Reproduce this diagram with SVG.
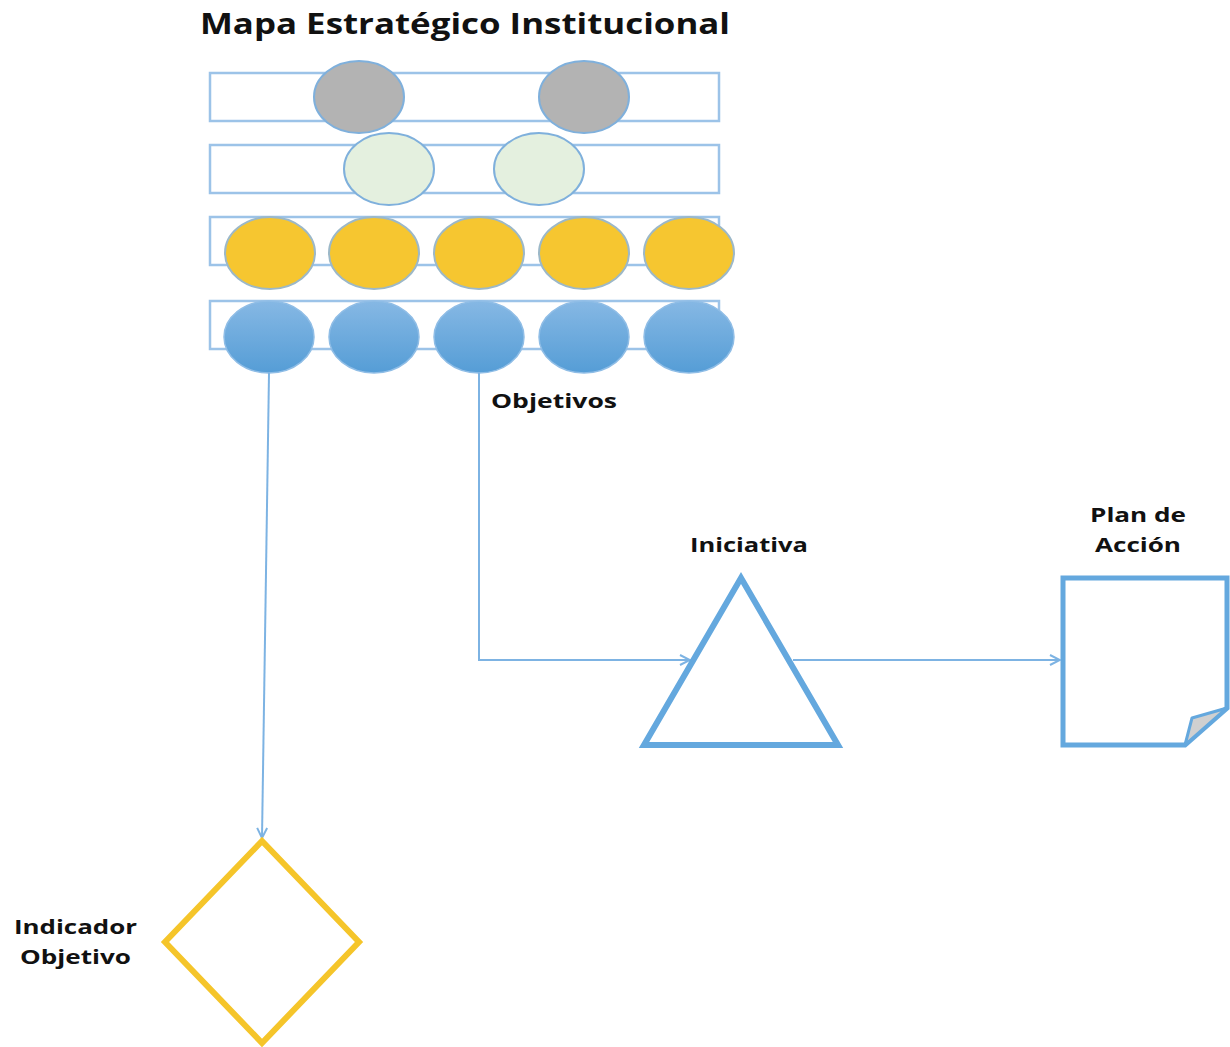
<svg xmlns="http://www.w3.org/2000/svg" width="1230" height="1047" viewBox="0 0 1230 1047">
<defs>
<style>
.lbl{font-family:"Open Sans","Liberation Sans",sans-serif;font-weight:700;fill:#111;}
.band{fill:none;stroke:#9cc3e8;stroke-width:2.5;}
.gray{fill:#b3b3b3;stroke:#7fb0dc;stroke-width:2;}
.green{fill:#e4f0df;stroke:#7fb0dc;stroke-width:2;}
.yellow{fill:#f6c630;stroke:#9cb8c8;stroke-width:2;}
.blue{fill:url(#bg);stroke:#8fbde6;stroke-width:1.5;}
.conn{fill:none;stroke:#7db3e3;stroke-width:2;}
</style>
<linearGradient id="bg" x1="0" y1="0" x2="0" y2="1">
<stop offset="0" stop-color="#86b8e4"/>
<stop offset="1" stop-color="#559dd6"/>
</linearGradient>
<marker id="arr" viewBox="0 0 12 12" refX="11" refY="6" markerWidth="12" markerHeight="12" markerUnits="userSpaceOnUse" orient="auto">
<path d="M1,1 L11,6 L1,11" fill="none" stroke="#7db3e3" stroke-width="2"/>
</marker>
</defs>
<rect width="1230" height="1047" fill="#fff"/>
<text class="lbl" x="200" y="34" font-size="29" textLength="530" lengthAdjust="spacingAndGlyphs">Mapa Estratégico Institucional</text>
<g id="mapa">
<rect class="band" x="210" y="73" width="509" height="48"/>
<rect class="band" x="210" y="145" width="509" height="48"/>
<rect class="band" x="210" y="217" width="509" height="48"/>
<rect class="band" x="210" y="301" width="509" height="48"/>
<ellipse class="gray" cx="359" cy="97" rx="45" ry="36"/>
<ellipse class="gray" cx="584" cy="97" rx="45" ry="36"/>
<ellipse class="green" cx="389" cy="169" rx="45" ry="36"/>
<ellipse class="green" cx="539" cy="169" rx="45" ry="36"/>
<ellipse class="yellow" cx="270" cy="253" rx="45" ry="36"/>
<ellipse class="yellow" cx="374" cy="253" rx="45" ry="36"/>
<ellipse class="yellow" cx="479" cy="253" rx="45" ry="36"/>
<ellipse class="yellow" cx="584" cy="253" rx="45" ry="36"/>
<ellipse class="yellow" cx="689" cy="253" rx="45" ry="36"/>
<ellipse class="blue" cx="269" cy="337" rx="45" ry="36"/>
<ellipse class="blue" cx="374" cy="337" rx="45" ry="36"/>
<ellipse class="blue" cx="479" cy="337" rx="45" ry="36"/>
<ellipse class="blue" cx="584" cy="337" rx="45" ry="36"/>
<ellipse class="blue" cx="689" cy="337" rx="45" ry="36"/>
<text class="lbl" x="491" y="408" font-size="20" textLength="126" lengthAdjust="spacingAndGlyphs">Objetivos</text>
</g>
<g id="connectors">
<path class="conn" d="M269,373 L262,838" marker-end="url(#arr)"/>
<path class="conn" d="M479,373 L479,660 L690,660" marker-end="url(#arr)"/>
<path class="conn" d="M793,660 L1060,660" marker-end="url(#arr)"/>
</g>
<g id="iniciativa">
<polygon points="741,578 644,745 838,745" fill="#fff" stroke="#64a8de" stroke-width="6" stroke-linejoin="miter"/>
<text class="lbl" x="690" y="552" font-size="20" textLength="118" lengthAdjust="spacingAndGlyphs">Iniciativa</text>
</g>
<g id="plan">
<path d="M1063,578 L1227,578 L1227,708 L1185,745 L1063,745 Z" fill="#fff" stroke="#64a8de" stroke-width="5"/>
<path d="M1185,745 L1192,718 L1227,708 Z" fill="#d0d0d0" stroke="#64a8de" stroke-width="3" stroke-linejoin="round"/>
<text class="lbl" font-size="20"><tspan x="1090" y="522" textLength="96" lengthAdjust="spacingAndGlyphs">Plan de</tspan><tspan x="1095" y="552" textLength="86" lengthAdjust="spacingAndGlyphs">Acción</tspan></text>
</g>
<g id="indicador">
<polygon points="262,841 359,942 262,1043 165,942" fill="#fff" stroke="#f5c52a" stroke-width="6"/>
<text class="lbl" font-size="20"><tspan x="14" y="934" textLength="123" lengthAdjust="spacingAndGlyphs">Indicador</tspan><tspan x="20" y="964" textLength="111" lengthAdjust="spacingAndGlyphs">Objetivo</tspan></text>
</g>
</svg>
